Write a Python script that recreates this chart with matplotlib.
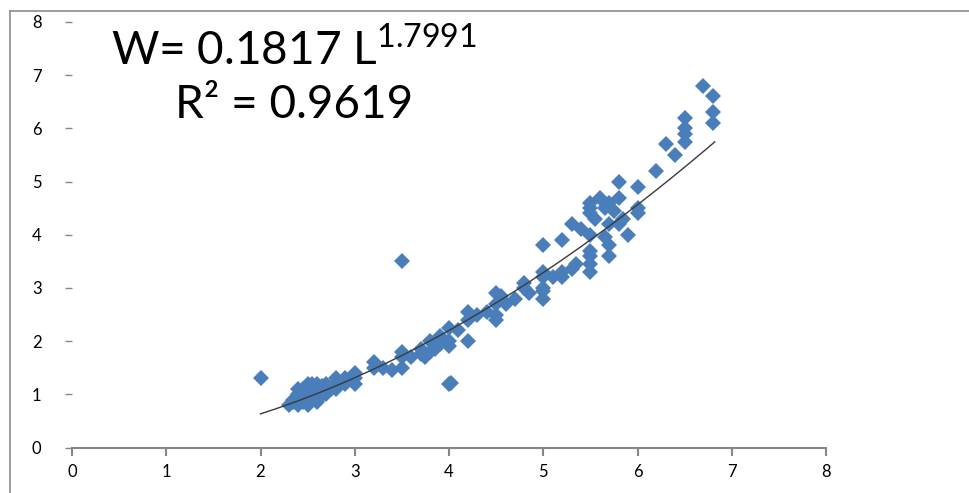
import numpy as np
import matplotlib
matplotlib.use("Agg")
import matplotlib.pyplot as plt
from matplotlib.lines import Line2D

plt.rcParams['font.family'] = ['Lato', 'DejaVu Sans']
plt.rcParams['mathtext.fontset'] = 'custom'
plt.rcParams['mathtext.rm'] = 'Lato'

length = [2.0, 2.3, 2.35, 2.35, 2.4, 2.4, 2.4, 2.45, 2.45, 2.45,
          2.5, 2.5, 2.5, 2.5, 2.5, 2.55, 2.55, 2.55, 2.6, 2.6,
          2.6, 2.6, 2.65, 2.65, 2.7, 2.7, 2.7, 2.75, 2.8, 2.8,
          2.8, 2.9, 2.9, 3.0, 3.0, 3.0, 3.2, 3.2, 3.3, 3.4,
          3.5, 3.5, 3.5, 3.5, 3.6, 3.7, 3.7, 3.75, 3.8, 3.8,
          3.85, 3.9, 3.9, 4.0, 4.0, 4.0, 4.0, 4.02, 4.1, 4.2,
          4.2, 4.2, 4.3, 4.4, 4.5, 4.5, 4.5, 4.5, 4.55, 4.6,
          4.7, 4.8, 4.8, 4.85, 5.0, 5.0, 5.0, 5.0, 5.0, 5.0,
          5.1, 5.2, 5.2, 5.2, 5.3, 5.3, 5.35, 5.4, 5.5, 5.5,
          5.5, 5.5, 5.5, 5.5, 5.5, 5.5, 5.55, 5.6, 5.65, 5.65,
          5.7, 5.7, 5.7, 5.7, 5.75, 5.8, 5.8, 5.8, 5.85, 5.9,
          6.0, 6.0, 6.0, 6.2, 6.3, 6.4, 6.5, 6.5, 6.5, 6.5,
          6.7, 6.8, 6.8, 6.8, 2.4, 2.5, 2.6, 2.55]
weight = [1.3, 0.8, 0.85, 0.9, 0.8, 0.9, 1.0, 0.85, 1.0, 1.1,
          0.8, 0.9, 1.0, 1.1, 1.2, 0.9, 1.05, 1.2, 0.9, 1.0,
          1.1, 1.2, 1.0, 1.15, 1.0, 1.1, 1.2, 1.1, 1.1, 1.2,
          1.3, 1.2, 1.3, 1.2, 1.3, 1.4, 1.5, 1.6, 1.5, 1.45,
          1.5, 1.7, 1.8, 3.5, 1.7, 1.75, 1.85, 1.7, 1.8, 2.0,
          1.85, 2.1, 1.95, 2.25, 1.9, 2.0, 1.2, 1.22, 2.2, 2.0,
          2.4, 2.55, 2.5, 2.55, 2.4, 2.5, 2.7, 2.9, 2.85, 2.7,
          2.8, 3.0, 3.1, 2.9, 2.8, 2.95, 3.0, 3.3, 3.2, 3.8,
          3.2, 3.2, 3.3, 3.9, 3.35, 4.2, 3.45, 4.1, 3.3, 3.45,
          3.6, 3.7, 4.0, 4.4, 4.5, 4.6, 4.3, 4.7, 4.5, 3.95,
          3.6, 3.8, 4.2, 4.6, 4.45, 4.2, 4.7, 5.0, 4.3, 4.0,
          4.4, 4.5, 4.9, 5.2, 5.7, 5.5, 5.75, 5.9, 6.0, 6.2,
          6.8, 6.1, 6.3, 6.6, 1.1, 0.85, 0.85, 1.15]

# power trendline as stated on the chart
coef_a = 0.1817
coef_b = 1.7991
r_squared = 0.9619
trend_range = (2.0, 6.82)

ticks = [0, 1, 2, 3, 4, 5, 6, 7, 8]

fig = plt.figure(figsize=(9.69, 4.93), dpi=100)
ax = fig.add_axes([72 / 969, 1 - 447.5 / 493, (826 - 72) / 969, (447.5 - 22) / 493])

ax.plot(length, weight, linestyle='none', marker='D', markersize=7.8,
        color='#4A7EBB', markeredgewidth=0, zorder=2)

xs = np.linspace(trend_range[0], trend_range[1], 200)
ax.plot(xs, coef_a * xs ** coef_b, color='#3a3a3a', linewidth=1.0, zorder=3)

ax.set_xlim(0, 8)
ax.set_ylim(0, 8)
ax.set_xticks(ticks)
ax.set_yticks(ticks)

for side in ['top', 'right', 'left']:
    ax.spines[side].set_visible(False)
ax.spines['bottom'].set_color('#868686')
ax.spines['bottom'].set_linewidth(1.5)

ax.tick_params(axis='x', direction='out', length=6, width=1.5, color='#868686',
               labelsize=12, pad=6)
ax.tick_params(axis='y', direction='out', length=5, width=1.0, color='#868686',
               labelsize=12, pad=17)

ax.text(0.052, 0.935, r'W= 0.1817 L$^{\mathregular{1.7991}}$', transform=ax.transAxes,
        fontsize=33, va='center', ha='left')
ax.text(0.137, 0.805, 'R² = 0.9619', transform=ax.transAxes,
        fontsize=33, va='center', ha='left')

# outer frame (top and left edges visible in the reference crop)
fig.add_artist(Line2D([10 / 969, 1], [1 - 11 / 493, 1 - 11 / 493],
                      transform=fig.transFigure, color='#8c8c8c', linewidth=1.2))
fig.add_artist(Line2D([10 / 969, 10 / 969], [0, 1 - 11 / 493],
                      transform=fig.transFigure, color='#8c8c8c', linewidth=1.2))

fig.savefig('out.png', dpi=100)
